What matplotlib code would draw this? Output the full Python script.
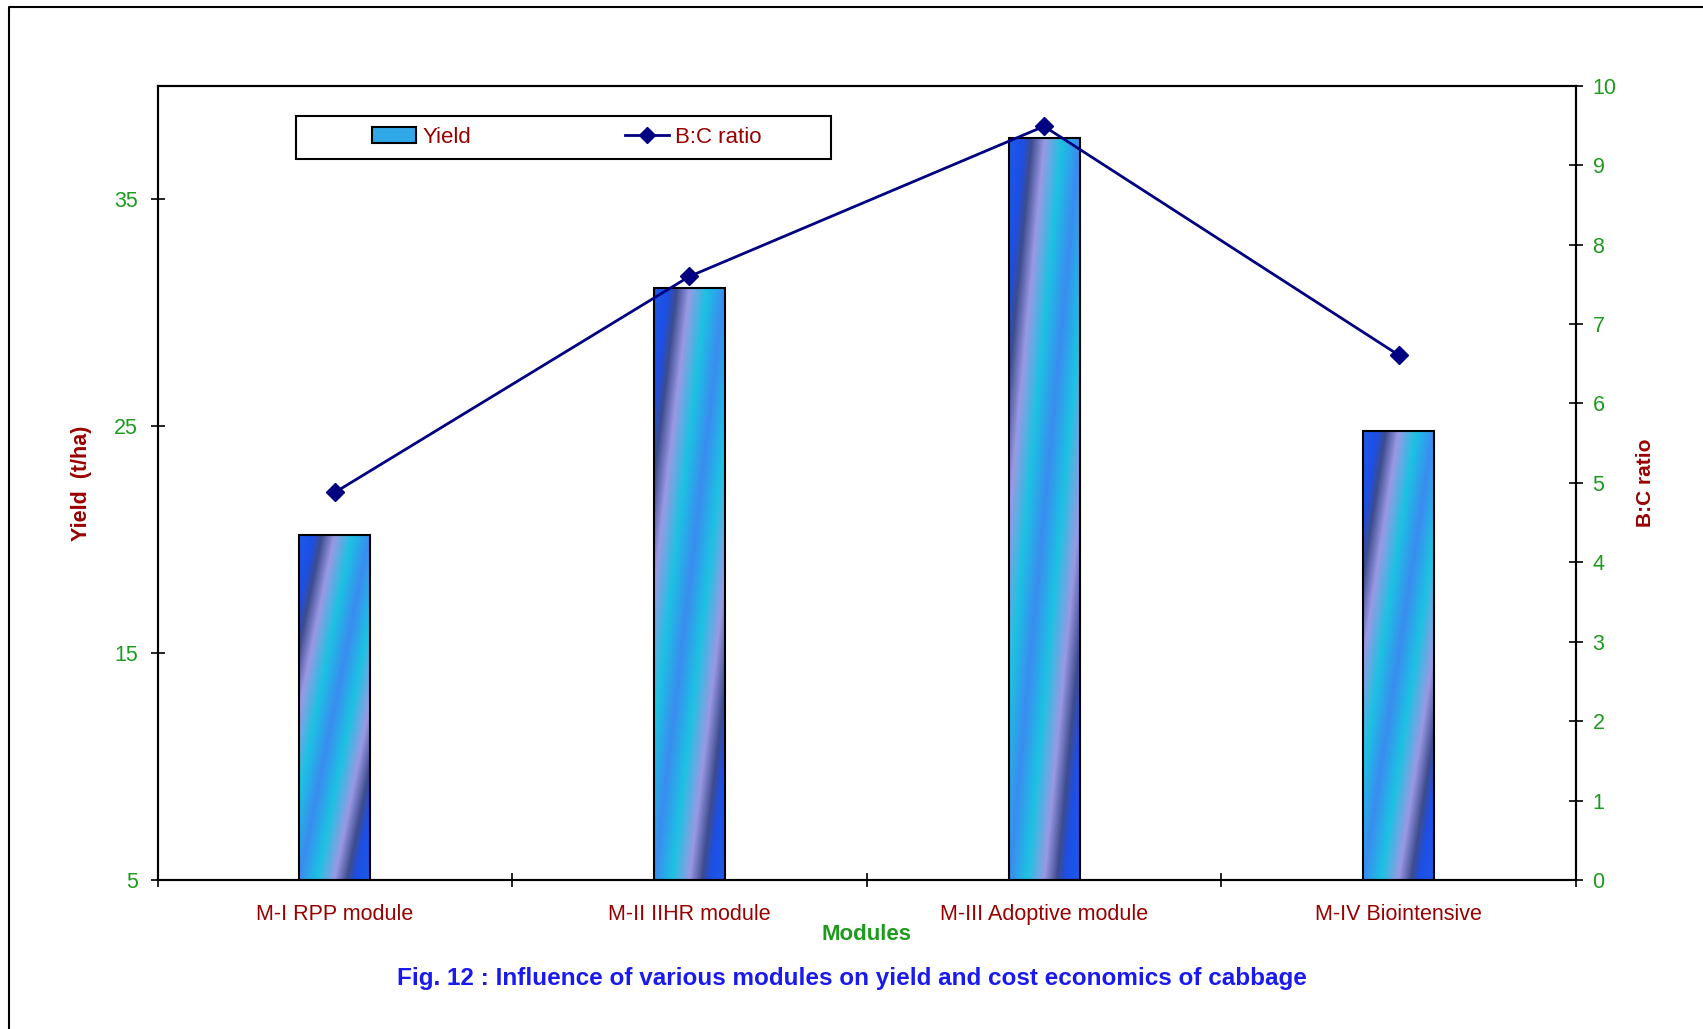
import numpy as np
import matplotlib
matplotlib.use('Agg')
import matplotlib.pyplot as plt
from matplotlib.colors import LinearSegmentedColormap
from matplotlib.patches import Rectangle, Patch
from matplotlib.lines import Line2D

modules = ['M-I RPP module', 'M-II IIHR module', 'M-III Adoptive module', 'M-IV Biointensive']
yield_tha = [20.2, 31.1, 37.7, 24.8]
bc_ratio = [4.88, 7.6, 9.49, 6.61]
yield_ticks = [5, 15, 25, 35]
bc_ticks = list(range(0, 11))

plt.rcParams['font.family'] = ['Liberation Sans', 'DejaVu Sans']

dark_red = '#990000'
green = '#1f9a1f'
navy = '#000080'

# excel-ish diagonal gradient for the bars
bar_cmap = LinearSegmentedColormap.from_list('bar', [
    (0.0, '#3a8cf0'), (0.25, '#1cc2e2'), (0.5, '#9a98e4'), (0.68, '#3d4c8e'),
    (0.8, '#1d4fe6'), (1.0, '#1d5ae8')])

fig = plt.figure(figsize=(17.03, 10.29), dpi=100)
ax = fig.add_axes([0.0925, 0.1448, 0.8329, 0.7718])
ax2 = ax.twinx()

x = np.arange(len(modules))
width = 0.2
ylo, yhi = 5, 40
bars = ax.bar(x, yield_tha, width, facecolor='none', edgecolor='black', linewidth=1.5, zorder=3)

m, n = 300, 80
rows = np.linspace(0, 1, m)[:, None]
cols = np.linspace(0, 1, n)[None, :]
grad = np.abs(cols + rows - 1)
for b in bars:
    l = b.get_x()
    im = ax.imshow(grad, cmap=bar_cmap, vmin=0, vmax=1, origin='upper', aspect='auto',
                   extent=[l, l + b.get_width(), ylo, b.get_height()],
                   interpolation='bilinear', zorder=2)
    im.set_clip_path(b)

ax.set_xlim(-0.5, len(modules) - 0.5)
ax.set_ylim(ylo, yhi)
ax2.set_ylim(0, 10)

ax2.plot(x, bc_ratio, color=navy, lw=2, marker='D', ms=9, zorder=5)

for a in (ax, ax2):
    for s in a.spines.values():
        s.set_linewidth(1.5)

ax.set_yticks(yield_ticks)
ax.tick_params(axis='y', direction='inout', length=10, width=1.2, labelcolor=green, labelsize=15.5, pad=9)
ax2.set_yticks(bc_ticks)
ax2.tick_params(axis='y', direction='inout', length=10, width=1.2, labelcolor=green, labelsize=15.5, pad=7)

ax.set_xticks(np.arange(-0.5, len(modules), 1.0))
ax.set_xticklabels([])
ax.tick_params(axis='x', which='major', direction='inout', length=10, width=1.2)
ax.set_xticks(x, minor=True)
ax.set_xticklabels(modules, minor=True)
ax.tick_params(axis='x', which='minor', length=0, labelcolor=dark_red, labelsize=15.5, pad=17)

ax.set_ylabel('Yield  (t/ha)', color=dark_red, fontweight='bold', fontsize=15.5)
ax.yaxis.set_label_coords(-0.0462, 0.5)
ax2.set_ylabel('B:C ratio', color=dark_red, fontweight='bold', fontsize=15, rotation=90)
ax2.yaxis.set_label_coords(1.0423, 0.5)

fig.text(0.5086, 0.0923, 'Modules', color=green, fontweight='bold', fontsize=16, ha='center', va='center')
fig.text(0.5, 0.0486, 'Fig. 12 : Influence of various modules on yield and cost economics of cabbage',
         color='#1a1aee', fontweight='bold', fontsize=17.5, ha='center', va='center')

# legend box drawn by hand, handles placed inside
ax2.add_patch(Rectangle((0.0976, 0.9078), 0.3772, 0.0541, transform=ax2.transAxes,
                        facecolor='white', edgecolor='black', linewidth=1.5, zorder=6))
handles = [Patch(facecolor='#30a8e8', edgecolor='black', linewidth=1.5),
           Line2D([], [], color=navy, marker='D', ms=8, lw=2)]
leg = ax2.legend(handles, ['Yield', 'B:C ratio'], loc='center left', bbox_to_anchor=(0.1512, 0.9349),
                 ncol=2, frameon=False, borderpad=0, borderaxespad=0, handlelength=2.0,
                 handletextpad=0.27, columnspacing=6.9, fontsize=16, labelcolor=dark_red)
leg.set_zorder(7)

# outer frame (only left and top edges show)
fig.add_artist(Line2D([9 / 1703, 9 / 1703, 1], [0, 1 - 7 / 1029, 1 - 7 / 1029],
                      transform=fig.transFigure, color='black', lw=1.5))

fig.savefig('out.png', dpi=100)
